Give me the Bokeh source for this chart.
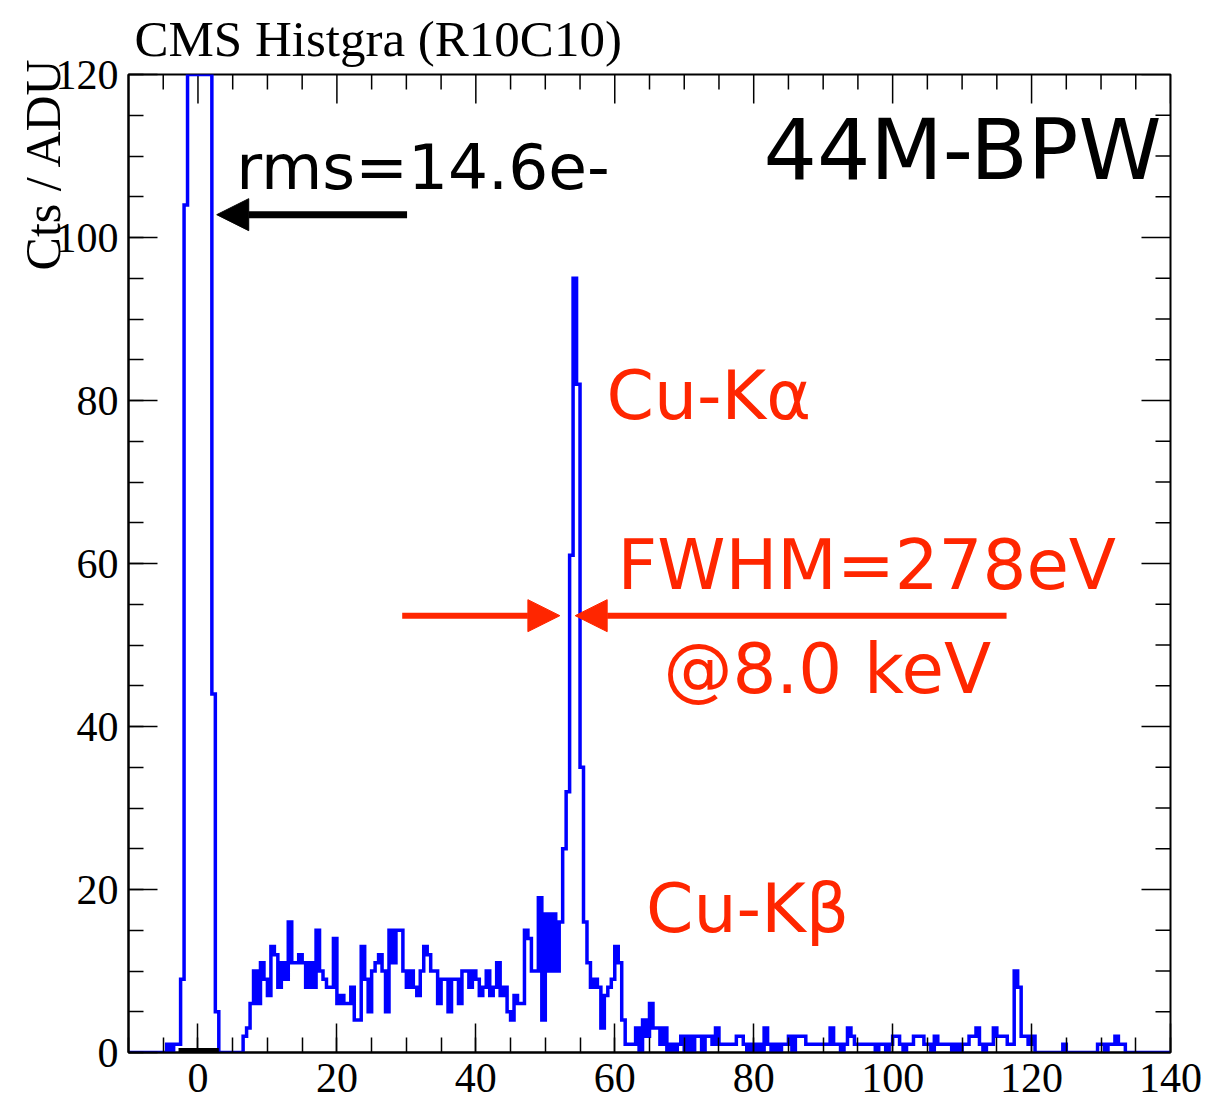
import numpy as np
from bokeh.plotting import figure
from bokeh.models import Range1d, SingleIntervalTicker, Label, Arrow, NormalHead
from bokeh.embed import file_html
from bokeh.resources import INLINE

# ---------------- data ----------------
x_start = -10.0
bin_width = 0.5
# bins from -10 to 6.5 (noise peak, clipped at 120 in the picture)
counts_noise = [0] * 11 + [1, 0, 1, 1, 9, 104, 120, 120, 120, 120, 120, 120, 120, 44, 5] + [0] * 7
# bins from 6.5 to 62 (continuum + Cu-Ka)
counts_body = [
    2, 3, 6, 10, 6, 11, 9, 7, 13, 12,
    8, 11, 9, 16, 11, 11, 12, 11, 8, 11,
    8, 15, 10, 9, 8, 8, 14, 6, 7, 6,
    6, 8, 4, 4, 13, 9, 5, 10, 11, 12,
    10, 5, 15, 11, 15, 15, 10, 8, 10, 8,
    7, 10, 13, 12, 10, 10, 6, 9, 9, 5,
    9, 9, 6, 10, 10, 8, 10, 9, 7, 8,
    10, 7, 8, 11, 7, 8, 5, 4, 7, 6,
    6, 15, 14, 10, 10, 19, 4, 17, 10, 17,
    10, 16, 25, 32, 61, 95, 82, 35, 16, 11,
    8, 9, 8, 3, 7, 8, 9, 13, 11, 4, 1,
]
# bins from 62 to 140 (tail)
counts_tail = [
    1, 1, 3, 0, 4, 2, 6, 3, 3, 1,
    3, 0, 1, 0, 1, 2, 0, 2, 0, 2,
    2, 0, 2, 2, 1, 3, 1, 1, 1, 1,
    1, 2, 2, 1, 0, 1, 0, 1, 0, 3,
    1, 0, 1, 0, 1, 1, 2, 0, 2, 2,
    2, 1, 1, 1, 1, 1, 1, 1, 3, 1,
    1, 0, 1, 3, 2, 1, 1, 1, 1, 1,
    1, 0, 1, 1, 0, 1, 2, 2, 1, 0,
    1, 1, 2, 2, 2, 1, 1, 0, 2, 1,
    1, 1, 1, 0, 1, 0, 1, 1, 2, 2,
    3, 1, 0, 1, 1, 3, 2, 2, 2, 1,
    1, 10, 8, 2, 2, 1, 2, 0, 0, 0,
    0, 0, 0, 0, 0, 1, 0, 0, 0, 0,
    0, 0, 0, 0, 0, 1, 1, 0, 1, 1,
    2, 1, 1, 0, 0, 0, 0, 0, 0, 0,
    0, 0, 0, 0, 0, 0,
]
noise_bar = (-2.8, 3.0)  # black bar drawn on the axis under the pedestal peak

x_major_ticks = [0, 20, 40, 60, 80, 100, 120, 140]
y_major_ticks = [0, 20, 40, 60, 80, 100, 120]
minor_step = 5

X0, X1, Y0, Y1 = -10, 140, 0, 120

counts = np.array(counts_noise + counts_body + counts_tail, dtype=float)
edges = x_start + bin_width * np.arange(len(counts) + 1)
xs = np.repeat(edges, 2)[1:-1]
ys = np.repeat(counts, 2)

RED = "#FF2600"
SERIF = "Liberation Serif"
SANS = "DejaVu Sans"

W, H = 1206, 1099
BL, BR, BT, BB = 128, 36, 72, 47
px_x = (W - BL - BR) / (X1 - X0)   # pixels per x unit
px_y = (H - BT - BB) / (Y1 - Y0)   # pixels per y unit

p = figure(width=W, height=H, output_backend="svg", toolbar_location=None,
           x_range=Range1d(X0, X1), y_range=Range1d(Y0, Y1),
           min_border_left=BL, min_border_right=BR, min_border_top=BT, min_border_bottom=BB,
           background_fill_color="white", border_fill_color="white")
p.grid.visible = False
p.outline_line_color = "black"
p.outline_line_width = 2

p.title.text = "CMS Histgra (R10C10)"
p.title.text_font = SERIF
p.title.text_font_size = "51px"
p.title.text_font_style = "normal"
p.title.text_color = "black"
p.title.align = "left"
p.title.offset = 6
p.title.standoff = 16

for ax, interval in ((p.xaxis[0], 20), (p.yaxis[0], 20)):
    ax.ticker = SingleIntervalTicker(interval=interval, num_minor_ticks=4)
    ax.axis_line_color = "black"
    ax.axis_line_width = 2
    ax.major_tick_in = 29
    ax.major_tick_out = 0
    ax.minor_tick_in = 15
    ax.minor_tick_out = 0
    ax.major_tick_line_width = 1.5
    ax.minor_tick_line_width = 1.5
    ax.major_tick_line_color = "black"
    ax.minor_tick_line_color = "black"
    ax.major_label_text_font = SERIF
    ax.major_label_text_font_size = "42px"
    ax.major_label_text_color = "black"

p.xaxis.major_label_standoff = 11
p.yaxis.major_label_standoff = 10

# y-axis title, pushed toward the top end of the axis (as in the ROOT original)
p.yaxis.axis_label = "\u00a0" * 64 + "Cts / ADU"
p.yaxis.axis_label_text_font = SERIF
p.yaxis.axis_label_text_font_size = "50px"
p.yaxis.axis_label_text_font_style = "normal"
p.yaxis.axis_label_text_color = "black"
p.yaxis.axis_label_standoff = -18

# ticks on the top and right frame edges (pointing inwards)
x_minor = [v for v in range(X0, X1 + 1, minor_step) if v not in x_major_ticks and X0 < v < X1]
y_minor = [v for v in range(Y0, Y1 + 1, minor_step) if v not in y_major_ticks]
tick_style = dict(line_color="black", line_width=1.5)
p.segment(x0=x_major_ticks, y0=[Y1] * len(x_major_ticks), x1=x_major_ticks,
          y1=[Y1 - 29 / px_y] * len(x_major_ticks), **tick_style)
p.segment(x0=x_minor, y0=[Y1] * len(x_minor), x1=x_minor,
          y1=[Y1 - 15 / px_y] * len(x_minor), **tick_style)
p.segment(x0=[X1] * len(y_major_ticks), y0=y_major_ticks, x1=[X1 - 29 / px_x] * len(y_major_ticks),
          y1=y_major_ticks, **tick_style)
p.segment(x0=[X1] * len(y_minor), y0=y_minor, x1=[X1 - 15 / px_x] * len(y_minor),
          y1=y_minor, **tick_style)

# histogram outline
p.line(xs, ys, line_color="#0000FF", line_width=3.5, line_join="miter")
p.segment(x0=[noise_bar[0]], y0=[0], x1=[noise_bar[1]], y1=[0], line_color="black", line_width=9)

# annotations
def lab(x, y, text, size, color, align="left"):
    p.add_layout(Label(x=x, y=y, text=text, text_font=SANS, text_font_size=f"{size}px",
                       text_align=align, text_baseline="alphabetic", text_color=color))

lab(5.5, 108.6, "rms=14.6e-", 63, "black")
lab(138.7, 110.7, "44M-BPW", 84, "black", align="right")
lab(58.8, 80.65, "Cu-K\u03b1", 68, RED)
lab(60.4, 59.85, "FWHM=278eV", 69, RED)
lab(67.0, 47.0, "@8.0 keV", 69, RED)
lab(64.5, 17.7, "Cu-K\u03b2", 68, RED)

p.add_layout(Arrow(end=NormalHead(size=32, fill_color="black", line_color="black"),
                   x_start=30.1, y_start=102.8, x_end=2.7, y_end=102.8,
                   line_color="black", line_width=7))
p.add_layout(Arrow(end=NormalHead(size=32, fill_color=RED, line_color=RED),
                   x_start=29.4, y_start=53.6, x_end=52.1, y_end=53.6,
                   line_color=RED, line_width=6))
p.add_layout(Arrow(end=NormalHead(size=32, fill_color=RED, line_color=RED),
                   x_start=116.4, y_start=53.6, x_end=54.3, y_end=53.6,
                   line_color=RED, line_width=6))

open("out.html", "w").write(file_html(p, INLINE))
